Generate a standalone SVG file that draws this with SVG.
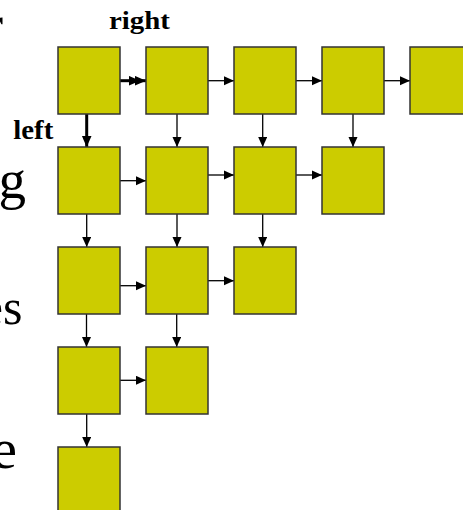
<svg xmlns="http://www.w3.org/2000/svg" width="463" height="510" viewBox="0 0 463 510">
  <style>
    .box { fill: #cccc00; stroke: #333333; stroke-width: 1.5; }
    .link { stroke: #000000; stroke-width: 1.3; fill: none; marker-end: url(#head); }
    .bold { stroke: #000000; stroke-width: 3; fill: none; }
    .label { font-family: "Liberation Serif", "Times New Roman", serif; font-weight: bold; fill: #000000; }
    .big { font-family: "Liberation Serif", "Times New Roman", serif; fill: #000000; }
  </style>
  <defs>
    <marker id="head" markerUnits="userSpaceOnUse" markerWidth="11" markerHeight="10" refX="10.5" refY="4.75" orient="auto">
      <path d="M0,0 L10.5,4.75 L0,9.5 Z" fill="#000000"/>
    </marker>
    <marker id="headBold" markerUnits="userSpaceOnUse" markerWidth="12" markerHeight="11" refX="11.5" refY="5" orient="auto">
      <path d="M0,0 L11.5,5 L0,10 Z" fill="#000000"/>
    </marker>
  </defs>

  <rect width="463" height="510" fill="#ffffff"/>

  <!-- large body text running off the left edge -->
  <g id="body-text">
    <text class="big" x="3" y="43" font-size="54" text-anchor="end">r</text>
    <text class="big" x="26" y="198" font-size="55" text-anchor="end">g</text>
    <text class="big" x="22.5" y="324" font-size="50" text-anchor="end">es</text>
    <text class="big" x="17" y="468" font-size="58" text-anchor="end">e</text>
  </g>

  <!-- labels -->
  <g id="labels">
    <text class="label" x="109" y="28.5" font-size="26" textLength="61" lengthAdjust="spacingAndGlyphs">right</text>
    <text class="label" x="13.3" y="139.3" font-size="27" textLength="40" lengthAdjust="spacingAndGlyphs">left</text>
  </g>

  <!-- connectors -->
  <g id="connectors">
    <!-- row 1 -->
    <polyline class="bold" points="120,80.7 140,80.7 146,80.7" marker-mid="url(#headBold)" marker-end="url(#headBold)"/>
    <line class="link" x1="208" y1="80.7" x2="234" y2="80.7"/>
    <line class="link" x1="296" y1="80.7" x2="322" y2="80.7"/>
    <line class="link" x1="384" y1="80.7" x2="410" y2="80.7"/>
    <!-- row 1 to row 2 -->
    <line class="bold" x1="86.7" y1="114" x2="86.7" y2="147" marker-end="url(#headBold)"/>
    <line class="link" x1="177" y1="114" x2="177" y2="147"/>
    <line class="link" x1="262.7" y1="114" x2="262.7" y2="147"/>
    <line class="link" x1="353" y1="114" x2="353" y2="147"/>
    <!-- row 2 -->
    <line class="link" x1="120" y1="180.7" x2="146" y2="180.7"/>
    <line class="link" x1="208" y1="175" x2="234" y2="175"/>
    <line class="link" x1="296" y1="175" x2="322" y2="175"/>
    <!-- row 2 to row 3 -->
    <line class="link" x1="86.7" y1="214" x2="86.7" y2="247"/>
    <line class="link" x1="177" y1="214" x2="177" y2="247"/>
    <line class="link" x1="262.7" y1="214" x2="262.7" y2="247"/>
    <!-- row 3 -->
    <line class="link" x1="120" y1="285.7" x2="146" y2="285.7"/>
    <line class="link" x1="208" y1="280.7" x2="234" y2="280.7"/>
    <!-- row 3 to row 4 -->
    <line class="link" x1="86.5" y1="314" x2="86.5" y2="347"/>
    <line class="link" x1="176.7" y1="314" x2="176.7" y2="347"/>
    <!-- row 4 -->
    <line class="link" x1="120" y1="380.3" x2="146" y2="380.3"/>
    <!-- row 4 to row 5 -->
    <line class="link" x1="86.7" y1="414" x2="86.7" y2="447"/>
  </g>

  <!-- nodes -->
  <g id="n-1-1"><rect class="box" x="58" y="47" width="62" height="67"/></g>
  <g id="n-1-2"><rect class="box" x="146" y="47" width="62" height="67"/></g>
  <g id="n-1-3"><rect class="box" x="234" y="47" width="62" height="67"/></g>
  <g id="n-1-4"><rect class="box" x="322" y="47" width="62" height="67"/></g>
  <g id="n-1-5"><rect class="box" x="410" y="47" width="62" height="67"/></g>

  <g id="n-2-1"><rect class="box" x="58" y="147" width="62" height="67"/></g>
  <g id="n-2-2"><rect class="box" x="146" y="147" width="62" height="67"/></g>
  <g id="n-2-3"><rect class="box" x="234" y="147" width="62" height="67"/></g>
  <g id="n-2-4"><rect class="box" x="322" y="147" width="62" height="67"/></g>

  <g id="n-3-1"><rect class="box" x="58" y="247" width="62" height="67"/></g>
  <g id="n-3-2"><rect class="box" x="146" y="247" width="62" height="67"/></g>
  <g id="n-3-3"><rect class="box" x="234" y="247" width="62" height="67"/></g>

  <g id="n-4-1"><rect class="box" x="58" y="347" width="62" height="67"/></g>
  <g id="n-4-2"><rect class="box" x="146" y="347" width="62" height="67"/></g>

  <g id="n-5-1"><rect class="box" x="58" y="447" width="62" height="67"/></g>
</svg>
